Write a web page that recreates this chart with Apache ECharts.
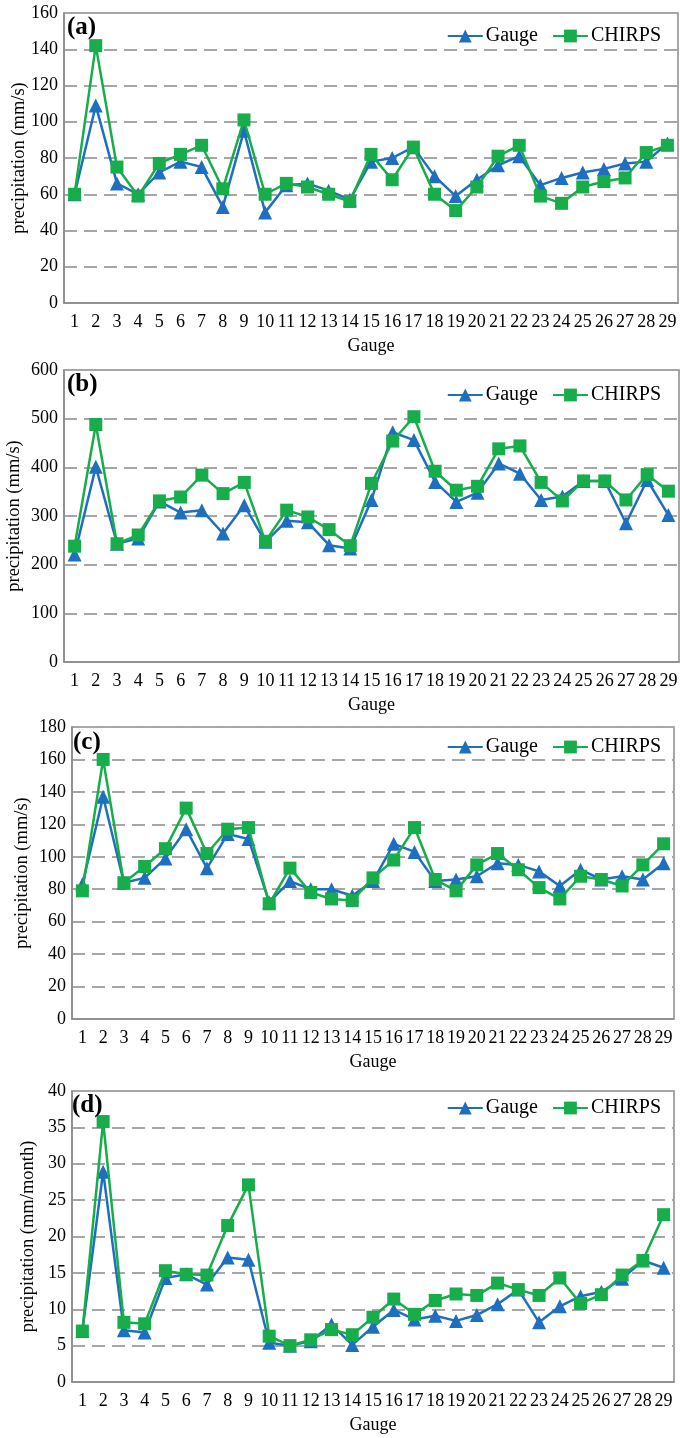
<!DOCTYPE html>
<html>
<head>
<meta charset="utf-8">
<script src="https://cdn.jsdelivr.net/npm/echarts@6/dist/echarts.min.js"></script>
<style>
html,body{margin:0;padding:0;background:#fff;}
#chart{width:680px;height:1438px;}
</style>
</head>
<body>
<div id="chart"></div>
<script>
// Categories (gauge numbers)
const gauges = ['1','2','3','4','5','6','7','8','9','10','11','12','13','14','15','16','17','18','19','20','21','22','23','24','25','26','27','28','29'];

// Panel (a)
const gaugeA  = [60,109,66,60,72,78,75,53,95,50,65,66,62,57,78,80,86,70,59,68,76,81,65,69,72,74,77,78,88];
const chirpsA = [60,142,75,59,77,82,87,63,101,60,66,64,60,56,82,68,86,60,51,64,81,87,59,55,64,67,69,83,87];

// Panel (b)
const gaugeB  = [221,401,243,254,330,307,312,264,322,247,290,287,240,233,333,472,456,370,329,348,408,387,333,340,372,372,285,374,302];
const chirpsB = [238,488,243,261,331,339,384,346,369,248,312,298,272,239,367,454,504,392,353,361,438,444,369,331,372,372,333,385,351];

// Panel (c)
const gaugeC  = [83,137,84,87,99,117,93,114,111,72,85,80,80,76,85,108,103,85,86,88,96,95,91,82,92,86,88,86,96];
const chirpsC = [79,160,84,94,105,130,102,117,118,71,93,78,74,73,87,98,118,86,79,95,102,92,81,74,88,86,82,95,108];

// Panel (d)
const gaugeD  = [7.0,28.9,7.1,6.8,14.3,14.8,13.4,17.1,16.8,5.4,5.0,5.6,7.9,5.1,7.6,9.9,8.6,9.1,8.4,9.2,10.7,12.7,8.2,10.4,11.8,12.4,14.2,16.7,15.7];
const chirpsD = [7.0,35.8,8.2,8.0,15.3,14.8,14.7,21.5,27.1,6.3,5.0,5.8,7.2,6.5,8.9,11.4,9.3,11.2,12.1,11.9,13.6,12.7,11.9,14.3,10.8,12.0,14.7,16.7,23.0];

// Axis setup
const yMax = [160,600,180,40];
const yInterval = [20,100,20,5];
const yNames = ['precipitation (mm/s)','precipitation (mm/s)','precipitation (mm/s)','precipitation (mm/month)'];
const panelLabels = ['(a)','(b)','(c)','(d)'];
const xName = 'Gauge';

const gaugeSeries = [gaugeA, gaugeB, gaugeC, gaugeD];
const chirpsSeries = [chirpsA, chirpsB, chirpsC, chirpsD];

// Layout
const grids = [
  {left:64, top:13,   right:2, height:290},
  {left:64, top:370,  right:1, height:292},
  {left:72, top:727,  right:6, height:292},
  {left:72, top:1091, right:6, height:291}
];
const yNameGaps = [35,40,40,34];
const legendTops = [26,385,737,1098];
const labelPos = [[67,15],[67,372],[73,730],[72,1093]];

const FONT = '"Liberation Serif","Times New Roman",serif';
const BLUE = '#1f6fc0';
const GREEN = '#17ad4a';
const AXIS = '#8a8a8a';

const option = {
  animation:false,
  backgroundColor:'#fff',
  textStyle:{fontFamily:FONT},
  grid: grids.map(g => Object.assign({show:true, containLabel:false, outerBoundsMode:'none', borderColor:AXIS, borderWidth:1.5, backgroundColor:'transparent'}, g)),
  title: panelLabels.map((t,i)=>({
    text:t, left:labelPos[i][0], top:labelPos[i][1], padding:0,
    textStyle:{fontFamily:FONT, fontWeight:'bold', fontSize:25, color:'#000'}
  })),
  legend: legendTops.map(t=>({
    data:['Gauge','CHIRPS'], right:19, top:t, padding:0,
    itemWidth:35, itemHeight:16, itemGap:14,
    textStyle:{fontFamily:FONT, fontSize:20, color:'#000', padding:[0,0,0,-2]}
  })),
  xAxis: grids.map((g,i)=>({
    type:'category', gridIndex:i, data:gauges, boundaryGap:true,
    name:xName, nameLocation:'middle', nameGap:34, nameMoveOverlap:false,
    nameTextStyle:{fontFamily:FONT, fontSize:18, color:'#000'},
    axisLine:{lineStyle:{color:AXIS, width:1.5}},
    axisTick:{show:false},
    axisLabel:{interval:0, fontFamily:FONT, fontSize:18, color:'#000', margin:10}
  })),
  yAxis: grids.map((g,i)=>({
    type:'value', gridIndex:i, min:0, max:yMax[i], interval:yInterval[i],
    name:yNames[i], nameLocation:'middle', nameGap:yNameGaps[i], nameRotate:90, nameMoveOverlap:false,
    nameTextStyle:{fontFamily:FONT, fontSize:18.5, color:'#000'},
    axisLine:{show:true, lineStyle:{color:AXIS, width:1.5}},
    axisTick:{show:false},
    axisLabel:{fontFamily:FONT, fontSize:18, color:'#000', margin:6},
    splitLine:{show:true, lineStyle:{color:'#a6a6a6', width:2, type:[13,7]}}
  })),
  series: []
};

for (let i=0;i<4;i++){
  option.series.push({
    name:'Gauge', type:'line', xAxisIndex:i, yAxisIndex:i, data:gaugeSeries[i],
    symbol:'triangle', symbolSize:14, showAllSymbol:true,
    lineStyle:{color:BLUE, width:2.5}, itemStyle:{color:BLUE}, z:2
  });
  option.series.push({
    name:'CHIRPS', type:'line', xAxisIndex:i, yAxisIndex:i, data:chirpsSeries[i],
    symbol:'rect', symbolSize:13, showAllSymbol:true,
    lineStyle:{color:GREEN, width:2.5}, itemStyle:{color:GREEN}, z:3
  });
}

const chart = echarts.init(document.getElementById('chart'), null, {renderer:'canvas'});
chart.setOption(option);
</script>
</body>
</html>
